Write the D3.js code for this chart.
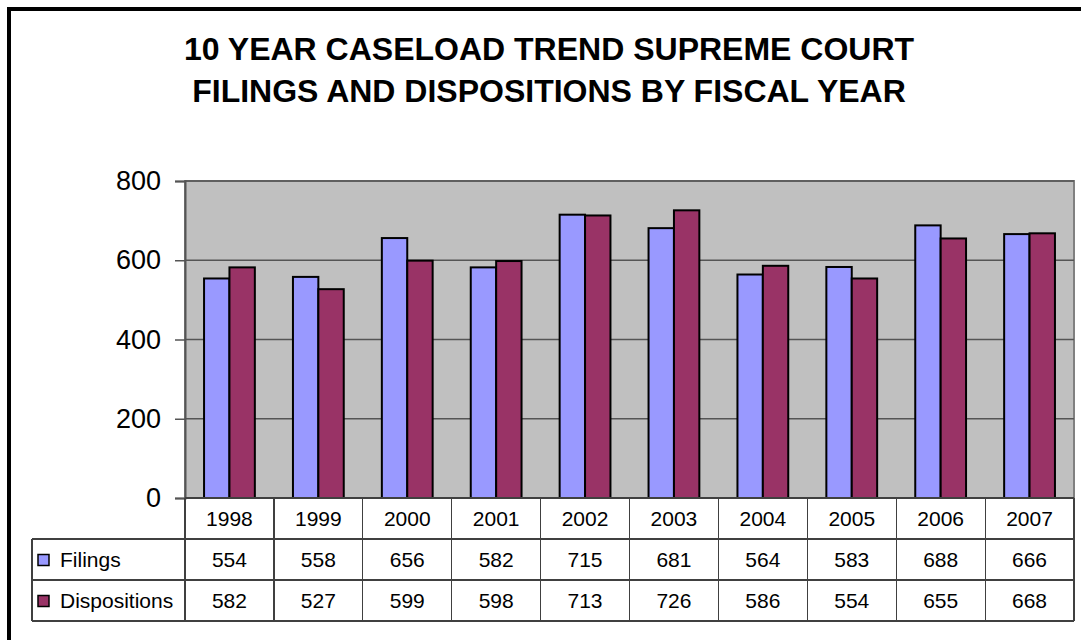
<!DOCTYPE html>
<html>
<head>
<meta charset="utf-8">
<script src="https://cdn.jsdelivr.net/npm/d3@7"></script>
<style>
  body { margin: 0; background: #fff; }
  svg { display: block; font-family: "Liberation Sans", Arial, sans-serif; }
</style>
</head>
<body>
<div id="chart"></div>
<script>
// ---- data ----
const years = ["1998", "1999", "2000", "2001", "2002", "2003", "2004", "2005", "2006", "2007"];
const filings = [554, 558, 656, 582, 715, 681, 564, 583, 688, 666];
const dispositions = [582, 527, 599, 598, 713, 726, 586, 554, 655, 668];
const seriesNames = ["Filings", "Dispositions"];
const seriesColors = ["#9999ff", "#993366"];
const yTicks = [0, 200, 400, 600, 800];
const titleLines = ["10 YEAR CASELOAD TREND SUPREME COURT", "FILINGS AND DISPOSITIONS BY FISCAL YEAR"];

const width = 1081, height = 640;
const plot = { left: 185, right: 1074, top: 181, bottom: 498 };
const rowH = 41;
const tableLeft = 32;

const svg = d3.select("#chart").append("svg")
  .attr("width", width)
  .attr("height", height);

// outer frame (runs off the right / bottom edge like the original)
svg.append("rect")
  .attr("x", 9).attr("y", 9)
  .attr("width", width + 20).attr("height", height + 20)
  .attr("fill", "none")
  .attr("stroke", "#000")
  .attr("stroke-width", 4);

// title
svg.append("g").selectAll("text")
  .data(titleLines)
  .join("text")
  .attr("x", 549)
  .attr("y", (d, i) => 60 + i * 42)
  .attr("text-anchor", "middle")
  .attr("font-size", 32)
  .attr("font-weight", "bold")
  .text(d => d);

const x = d3.scaleBand()
  .domain(years)
  .range([plot.left, plot.right]);

// two bars + 1.5 bar gap per category
const barW = x.bandwidth() / 3.5;

const y = d3.scaleLinear()
  .domain([0, 800])
  .range([plot.bottom, plot.top]);

// plot area
svg.append("rect")
  .attr("x", plot.left).attr("y", plot.top)
  .attr("width", plot.right - plot.left)
  .attr("height", plot.bottom - plot.top)
  .attr("fill", "#c0c0c0")
  .attr("stroke", "#808080")
  .attr("stroke-width", 2);

// gridlines
svg.append("g").selectAll("line")
  .data(yTicks.slice(1))
  .join("line")
  .attr("x1", plot.left).attr("x2", plot.right)
  .attr("y1", d => y(d)).attr("y2", d => y(d))
  .attr("stroke", "#555")
  .attr("stroke-width", 1.5);

// y axis
const yAxis = svg.append("g")
  .attr("transform", `translate(${plot.left},0)`)
  .call(d3.axisLeft(y).tickValues(yTicks).tickSize(10).tickPadding(14));
yAxis.select(".domain").attr("stroke", "#555").attr("stroke-width", 2);
yAxis.selectAll(".tick line").attr("stroke", "#555").attr("stroke-width", 1.5);
yAxis.selectAll(".tick text")
  .attr("font-size", 27)
  .attr("font-family", "Liberation Sans, Arial, sans-serif")
  .attr("fill", "#000");

// bars
const seriesData = [filings, dispositions];
const groups = svg.append("g").selectAll("g")
  .data(seriesData)
  .join("g")
  .attr("fill", (d, i) => seriesColors[i]);

groups.each(function(vals, si) {
  d3.select(this).selectAll("rect")
    .data(vals)
    .join("rect")
    .attr("x", (d, i) => x(years[i]) + x.bandwidth() / 2 - barW + si * barW)
    .attr("y", d => y(d))
    .attr("width", barW)
    .attr("height", d => y(0) - y(d))
    .attr("stroke", "#000")
    .attr("stroke-width", 2);
});

// data table
const table = svg.append("g")
  .attr("stroke", "#404040")
  .attr("stroke-width", 1.2)
  .attr("shape-rendering", "crispEdges");

const tableBottom = plot.bottom + rowH * 3;
// horizontal lines
[plot.bottom + rowH, plot.bottom + rowH * 2, tableBottom].forEach(yy => {
  table.append("line")
    .attr("x1", tableLeft).attr("x2", plot.right)
    .attr("y1", yy).attr("y2", yy);
});
table.append("line")
  .attr("x1", plot.left).attr("x2", plot.right)
  .attr("y1", plot.bottom).attr("y2", plot.bottom);
// vertical lines
table.selectAll(".vl")
  .data(years.map(yr => x(yr)).concat([plot.right]))
  .join("line")
  .attr("class", "vl")
  .attr("x1", d => d).attr("x2", d => d)
  .attr("y1", plot.bottom).attr("y2", tableBottom);
table.append("line")
  .attr("x1", tableLeft).attr("x2", tableLeft)
  .attr("y1", plot.bottom + rowH).attr("y2", tableBottom);

const tfont = 21;
// year header
svg.append("g").selectAll("text")
  .data(years)
  .join("text")
  .attr("x", d => x(d) + x.bandwidth() / 2)
  .attr("y", plot.bottom + rowH / 2 + 7.5)
  .attr("text-anchor", "middle")
  .attr("font-size", tfont)
  .text(d => d);

// value rows
seriesData.forEach((vals, si) => {
  const rowMid = plot.bottom + rowH * (si + 1) + rowH / 2;
  svg.append("g").selectAll("text")
    .data(vals)
    .join("text")
    .attr("x", (d, i) => x(years[i]) + x.bandwidth() / 2)
    .attr("y", rowMid + 7.5)
    .attr("text-anchor", "middle")
    .attr("font-size", tfont)
    .text(d => d);

  svg.append("rect")
    .attr("x", 38).attr("y", rowMid - 5)
    .attr("width", 11).attr("height", 11)
    .attr("fill", seriesColors[si])
    .attr("stroke", "#000")
    .attr("stroke-width", 1.5);

  svg.append("text")
    .attr("x", 60)
    .attr("y", rowMid + 7.5)
    .attr("font-size", tfont)
    .text(seriesNames[si]);
});
</script>
</body>
</html>
